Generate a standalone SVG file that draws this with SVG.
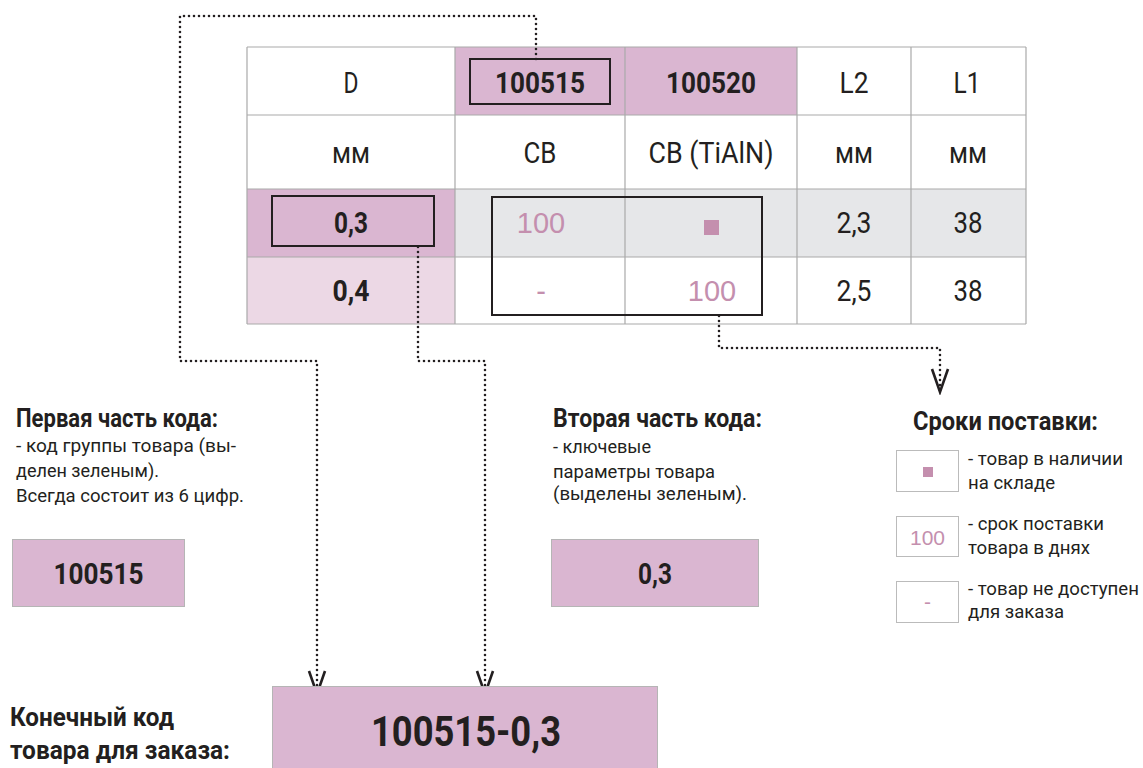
<svg xmlns="http://www.w3.org/2000/svg" width="1143" height="768" viewBox="0 0 1143 768">
<style>
.t{font-family:Roboto,"Liberation Sans",sans-serif;fill:#231f20}
.c{text-anchor:middle}
.b{font-weight:bold}
.tbl{font-size:29px}
.hd{font-size:25px;font-weight:bold}
.bd{font-size:19px}
.pk{font-family:"Liberation Sans",Arial,sans-serif;fill:#c48fae;text-anchor:middle}
.grid{stroke:#aaaaaa;stroke-width:1.2;fill:none}
.hl{fill:none;stroke:#231f20;stroke-width:2}
.dot{fill:none;stroke:#231f20;stroke-width:2.6;stroke-linecap:round;stroke-dasharray:0 5}
.pink{fill:#dab6d1}
.lbox{fill:#ffffff;stroke:#bbbbbb;stroke-width:1}
</style>
<defs>
<marker id="vhead" markerUnits="userSpaceOnUse" markerWidth="30" markerHeight="24" viewBox="-27 -12 30 24" refX="0" refY="0" orient="auto">
<path d="M-23,-8 L0,0 L-23,8" fill="none" stroke="#231f20" stroke-width="2.6"/>
</marker>
</defs>
<rect width="1143" height="768" fill="#ffffff"/>

<g id="table">
<rect x="455" y="47" width="342" height="68" class="pink"/>
<rect x="247" y="189" width="208" height="68" class="pink"/>
<rect x="455" y="189" width="571" height="68" fill="#e6e7e9"/>
<rect x="247" y="257" width="208" height="67" fill="#ecd8e5"/>
<path class="grid" d="M247,47 H1026 M247,115 H1026 M247,189 H1026 M247,257 H1026 M247,324 H1026 M247,47 V324 M455,47 V324 M625,47 V324 M797,47 V324 M911,47 V324 M1026,47 V324"/>
<text class="t c tbl" x="351" y="93" textLength="15" lengthAdjust="spacingAndGlyphs">D</text>
<text class="t c tbl b" x="540" y="93" textLength="90" lengthAdjust="spacingAndGlyphs">100515</text>
<text class="t c tbl b" x="711" y="93" textLength="90" lengthAdjust="spacingAndGlyphs">100520</text>
<text class="t c tbl" x="854" y="93" textLength="29" lengthAdjust="spacingAndGlyphs">L2</text>
<text class="t c tbl" x="967" y="93" textLength="27" lengthAdjust="spacingAndGlyphs">L1</text>
<text class="t c tbl" x="351" y="163" textLength="38" lengthAdjust="spacingAndGlyphs">мм</text>
<text class="t c tbl" x="540" y="163" textLength="33" lengthAdjust="spacingAndGlyphs">CB</text>
<text class="t c tbl" x="711" y="163" textLength="125" lengthAdjust="spacingAndGlyphs">CB (TiAlN)</text>
<text class="t c tbl" x="854" y="163" textLength="38" lengthAdjust="spacingAndGlyphs">мм</text>
<text class="t c tbl" x="968" y="163" textLength="38" lengthAdjust="spacingAndGlyphs">мм</text>
<text class="t c tbl b" x="351" y="233" textLength="34" lengthAdjust="spacingAndGlyphs">0,3</text>
<text class="pk" x="541" y="233" font-size="29">100</text>
<rect x="704" y="220" width="15" height="15" fill="#c48fae"/>
<text class="t c tbl" x="854" y="233" textLength="35" lengthAdjust="spacingAndGlyphs">2,3</text>
<text class="t c tbl" x="968" y="233" textLength="29" lengthAdjust="spacingAndGlyphs">38</text>
<text class="t c tbl b" x="351" y="301" textLength="37" lengthAdjust="spacingAndGlyphs">0,4</text>
<text class="pk" x="541" y="301" font-size="29">-</text>
<text class="pk" x="712" y="301" font-size="29">100</text>
<text class="t c tbl" x="854" y="301" textLength="35" lengthAdjust="spacingAndGlyphs">2,5</text>
<text class="t c tbl" x="968" y="301" textLength="29" lengthAdjust="spacingAndGlyphs">38</text>
<rect class="hl" x="470" y="59" width="140" height="45"/>
<rect class="hl" x="272" y="196" width="162" height="50"/>
<rect class="hl" x="492" y="197" width="270" height="118"/>
</g>

<g id="connectors">
<path class="dot" d="M536,59 V16 H180 V361 H317 V694" marker-end="url(#vhead)"/>
<path class="dot" d="M418,247 V361 H485 V694" marker-end="url(#vhead)"/>
<path class="dot" d="M719,316 V348 H940 V392" marker-end="url(#vhead)"/>
</g>

<g id="first-part">
<text class="t hd" x="16" y="427" textLength="202" lengthAdjust="spacingAndGlyphs">Первая часть кода:</text>
<text class="t bd" x="16" y="452" textLength="220" lengthAdjust="spacingAndGlyphs">- код группы товара (вы-</text>
<text class="t bd" x="16" y="477" textLength="143" lengthAdjust="spacingAndGlyphs">делен зеленым).</text>
<text class="t bd" x="16" y="502" textLength="228" lengthAdjust="spacingAndGlyphs">Всегда состоит из 6 цифр.</text>
<rect x="12.5" y="539.5" width="172" height="67" class="pink" stroke="#b5b5b5" stroke-width="1"/>
<text class="t c b" x="98.5" y="584" font-size="30" textLength="90" lengthAdjust="spacingAndGlyphs">100515</text>
</g>

<g id="second-part">
<text class="t hd" x="553" y="427" textLength="209" lengthAdjust="spacingAndGlyphs">Вторая часть кода:</text>
<text class="t bd" x="553" y="453" textLength="98" lengthAdjust="spacingAndGlyphs">- ключевые</text>
<text class="t bd" x="553" y="478" textLength="162" lengthAdjust="spacingAndGlyphs">параметры товара</text>
<text class="t bd" x="553" y="500" textLength="194" lengthAdjust="spacingAndGlyphs">(выделены зеленым).</text>
<rect x="551.5" y="539.5" width="207" height="67" class="pink" stroke="#b5b5b5" stroke-width="1"/>
<text class="t c b" x="655" y="584" font-size="30" textLength="34" lengthAdjust="spacingAndGlyphs">0,3</text>
</g>

<g id="legend">
<text class="t hd" x="913" y="430" textLength="185" lengthAdjust="spacingAndGlyphs">Сроки поставки:</text>
<rect class="lbox" x="896.5" y="450.5" width="62" height="41"/>
<rect x="923" y="467" width="10" height="10" fill="#c48fae"/>
<text class="t bd" x="968" y="465" textLength="155" lengthAdjust="spacingAndGlyphs">- товар в наличии</text>
<text class="t bd" x="968" y="489" textLength="87" lengthAdjust="spacingAndGlyphs">на складе</text>
<rect class="lbox" x="896.5" y="516.5" width="62" height="40"/>
<text class="pk" x="927.5" y="545" font-size="21">100</text>
<text class="t bd" x="968" y="530" textLength="136" lengthAdjust="spacingAndGlyphs">- срок поставки</text>
<text class="t bd" x="968" y="554" textLength="122" lengthAdjust="spacingAndGlyphs">товара в днях</text>
<rect class="lbox" x="896.5" y="581.5" width="62" height="41"/>
<text class="pk" x="927.5" y="609" font-size="21">-</text>
<text class="t bd" x="968" y="595" textLength="171" lengthAdjust="spacingAndGlyphs">- товар не доступен</text>
<text class="t bd" x="968" y="618" textLength="96" lengthAdjust="spacingAndGlyphs">для заказа</text>
</g>

<g id="final-code">
<text class="t hd" x="10" y="726" textLength="164" lengthAdjust="spacingAndGlyphs">Конечный код</text>
<text class="t hd" x="10" y="759" textLength="220" lengthAdjust="spacingAndGlyphs">товара для заказа:</text>
<rect x="272.5" y="686.5" width="385" height="90" class="pink" stroke="#b5b5b5" stroke-width="1"/>
<text class="t c b" x="466" y="746" font-size="42" textLength="190" lengthAdjust="spacingAndGlyphs">100515-0,3</text>
</g>
</svg>
